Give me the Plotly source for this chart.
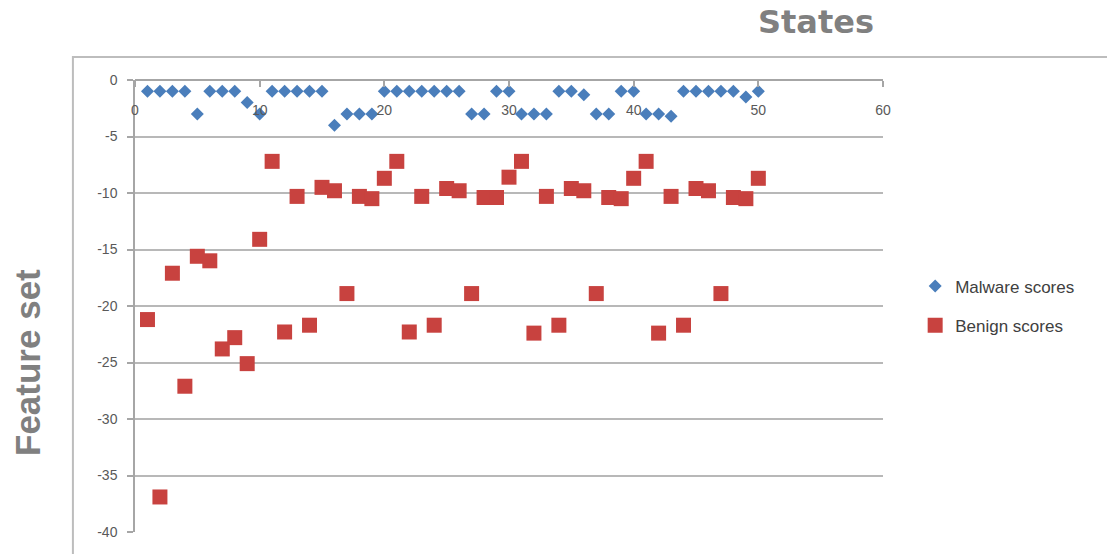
import plotly.graph_objects as go

# Scores per state (1..50)
states = list(range(1, 51))

malware_scores = [
    -1, -1, -1, -1, -3, -1, -1, -1, -2, -3,
    -1, -1, -1, -1, -1, -4, -3, -3, -3, -1,
    -1, -1, -1, -1, -1, -1, -3, -3, -1, -1,
    -3, -3, -3, -1, -1, -1.3, -3, -3, -1, -1,
    -3, -3, -3.2, -1, -1, -1, -1, -1, -1.5, -1,
]

benign_scores = [
    -21.2, -36.9, -17.1, -27.1, -15.6, -16.0, -23.8, -22.8, -25.1, -14.1,
    -7.2, -22.3, -10.3, -21.7, -9.5, -9.8, -18.9, -10.3, -10.5, -8.7,
    -7.2, -22.3, -10.3, -21.7, -9.6, -9.8, -18.9, -10.4, -10.4, -8.6,
    -7.2, -22.4, -10.3, -21.7, -9.6, -9.8, -18.9, -10.4, -10.5, -8.7,
    -7.2, -22.4, -10.3, -21.7, -9.6, -9.8, -18.9, -10.4, -10.5, -8.7,
]

x_ticks = [0, 10, 20, 30, 40, 50, 60]
y_ticks = [0, -5, -10, -15, -20, -25, -30, -35, -40]

BLUE = "#4A7EBB"
RED = "#C8423F"
GRID = "#B8B8B8"
TICK_FONT = dict(family="Liberation Sans, Arial, sans-serif", size=14, color="#595959")

fig = go.Figure()

fig.add_trace(go.Scatter(
    x=states, y=malware_scores, mode="markers", name="Malware scores",
    legendgroup="m",
    marker=dict(symbol="diamond", size=10, color=BLUE, line=dict(width=0)),
))
fig.add_trace(go.Scatter(
    x=states, y=benign_scores, mode="markers", name="Benign scores",
    legendgroup="b",
    marker=dict(symbol="square", size=15, color=RED, line=dict(width=0)),
))

fig.update_layout(
    width=1107, height=554,
    margin=dict(l=135, r=224, t=80, b=22),
    paper_bgcolor="white", plot_bgcolor="white",
    showlegend=True,
    legend=dict(
        x=1.043, y=0.50, xanchor="left", yanchor="middle",
        font=dict(family="Liberation Sans, Arial, sans-serif", size=17, color="#404040"),
        tracegroupgap=14, bgcolor="rgba(0,0,0,0)",
    ),
    xaxis=dict(
        range=[0, 60], tickvals=x_ticks, ticktext=[str(v) for v in x_ticks],
        anchor="free", position=1, side="bottom",
        showline=True, linecolor="#A6A6A6", linewidth=1.5,
        ticks="outside", ticklen=6, tickcolor="#A6A6A6", tickwidth=1.5,
        ticklabelstandoff=11,
        showgrid=False, zeroline=False,
        tickfont=TICK_FONT,
    ),
    yaxis=dict(
        range=[-40, 0], tickvals=y_ticks, ticktext=[str(v) for v in y_ticks],
        showline=True, linecolor="#A6A6A6", linewidth=1.5,
        ticks="outside", ticklen=6, tickcolor="#A6A6A6", tickwidth=1.5,
        ticklabelstandoff=7,
        showgrid=True, gridcolor=GRID, gridwidth=1.5, zeroline=False,
        tickfont=TICK_FONT,
    ),
    shapes=[
        # outer chart-area frame, running off the right and bottom edges
        dict(type="rect", xref="paper", yref="paper",
             x0=-0.083, y0=-0.3, x1=1.6, y1=1.051,
             line=dict(color="#BDBDBD", width=2), fillcolor="rgba(0,0,0,0)",
             layer="below"),
    ],
    annotations=[
        dict(text="<b>States</b>", xref="paper", yref="paper",
             x=0.91, y=1.128, xanchor="center", yanchor="middle", showarrow=False,
             font=dict(family="DejaVu Sans, sans-serif", size=32, color="#808080")),
        dict(text="<b>Feature set</b>", xref="paper", yref="paper",
             x=-0.143, y=0.374, xanchor="center", yanchor="middle", showarrow=False,
             textangle=-90,
             font=dict(family="Liberation Sans, Arial, sans-serif", size=35, color="#808080")),
    ],
)

fig.write_html("out.html")
